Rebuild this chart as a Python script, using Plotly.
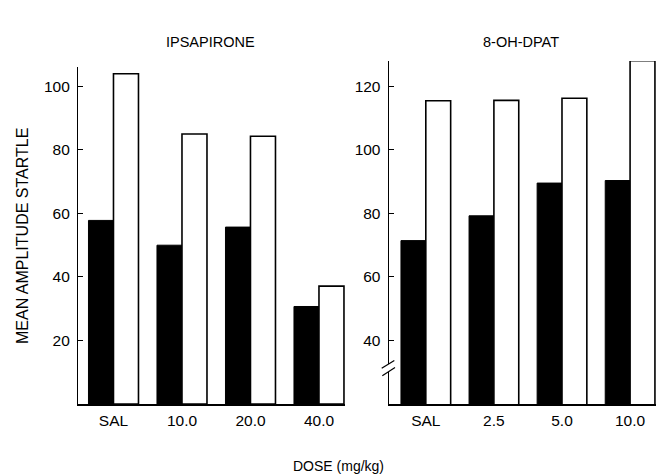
import plotly.graph_objects as go

# ---- data ----
ipsa_doses = ["SAL", "10.0", "20.0", "40.0"]
ipsa_black = [57.8, 50.0, 55.7, 30.7]
ipsa_white = [104.0, 85.0, 84.3, 37.1]

dpat_doses = ["SAL", "2.5", "5.0", "10.0"]
dpat_black = [71.4, 79.2, 89.5, 90.3]
dpat_white = [115.4, 115.5, 116.2, 128.0]

left_ticks = [20, 40, 60, 80, 100]
right_ticks = [40, 60, 80, 100, 120]

# page body has an 8px margin, so the figure is offset by 8px
OFF = 8
W, H = 664 - OFF, 475 - OFF
FONT = "Liberation Sans, Arial, Helvetica, sans-serif"


def px(x):
    return (x - OFF) / W


def py(y):
    return 1 - (y - OFF) / H


fig = go.Figure()

fig.add_trace(go.Bar(x=ipsa_doses, y=ipsa_black, xaxis="x", yaxis="y",
                     marker=dict(color="black", line=dict(color="black", width=1)),
                     showlegend=False))
fig.add_trace(go.Bar(x=ipsa_doses, y=ipsa_white, xaxis="x", yaxis="y",
                     marker=dict(color="white", line=dict(color="black", width=1.6)),
                     showlegend=False))
fig.add_trace(go.Bar(x=dpat_doses, y=dpat_black, xaxis="x2", yaxis="y2",
                     marker=dict(color="black", line=dict(color="black", width=1)),
                     showlegend=False))
fig.add_trace(go.Bar(x=dpat_doses, y=dpat_white, xaxis="x2", yaxis="y2",
                     marker=dict(color="white", line=dict(color="black", width=1.6)),
                     showlegend=False))

TICKFONT = dict(family=FONT, size=15.5, color="black")
axis_common = dict(showgrid=False, zeroline=False, showline=True,
                   linecolor="black", tickfont=TICKFONT)

fig.update_layout(
    width=W, height=H,
    margin=dict(l=0, r=0, t=0, b=0),
    paper_bgcolor="white", plot_bgcolor="white",
    barmode="group", bargap=0.27, bargroupgap=0,
    font=dict(family=FONT, color="black"),
    xaxis=dict(axis_common, domain=[px(78), px(345)], anchor="y",
               range=[-0.518, 3.38], ticks="", linewidth=1.5,
               ticklabelstandoff=2),
    yaxis=dict(axis_common, domain=[py(404), py(66.7)], anchor="x",
               range=[0, 106.2], tickvals=left_ticks, ticks="inside",
               ticklen=5, tickcolor="black", linewidth=1.2,
               ticklabelstandoff=4),
    xaxis2=dict(axis_common, domain=[px(388.7), px(658)], anchor="y2",
                range=[-0.545, 3.41], ticks="", linewidth=1.5,
                ticklabelstandoff=2),
    yaxis2=dict(axis_common, domain=[py(404), py(61)], anchor="x2",
                range=[20, 127.9], tickvals=right_ticks, ticks="inside",
                ticklen=5, tickcolor="black", linewidth=1.2,
                ticklabelstandoff=4),
)

# axis break on right y axis
fig.add_shape(type="rect", xref="paper", yref="paper",
              x0=px(386), x1=px(391.5), y0=py(372), y1=py(364),
              fillcolor="white", line=dict(width=0), layer="above")
fig.add_shape(type="line", xref="paper", yref="paper",
              x0=px(381.7), y0=py(368.3), x1=px(394.3), y1=py(360.5),
              line=dict(color="black", width=1.2))
fig.add_shape(type="line", xref="paper", yref="paper",
              x0=px(382.3), y0=py(375.7), x1=px(395), y1=py(367.5),
              line=dict(color="black", width=1.2))

ann_font = dict(family=FONT, size=14.5, color="black")
fig.add_annotation(text="IPSAPIRONE", x=px(210), y=py(42), xref="paper", yref="paper",
                   showarrow=False, font=ann_font, xanchor="center", yanchor="middle")
fig.add_annotation(text="8-OH-DPAT", x=px(521), y=py(42), xref="paper", yref="paper",
                   showarrow=False, font=ann_font, xanchor="center", yanchor="middle")
fig.add_annotation(text="MEAN AMPLITUDE STARTLE", x=px(22), y=py(236), xref="paper",
                   yref="paper", showarrow=False, textangle=-90,
                   font=dict(family=FONT, size=16, color="black"),
                   xanchor="center", yanchor="middle")
fig.add_annotation(text="DOSE (mg/kg)", x=px(339), y=py(466), xref="paper", yref="paper",
                   showarrow=False, font=dict(family=FONT, size=14, color="black"),
                   xanchor="center", yanchor="middle")

fig.write_html("out.html")
